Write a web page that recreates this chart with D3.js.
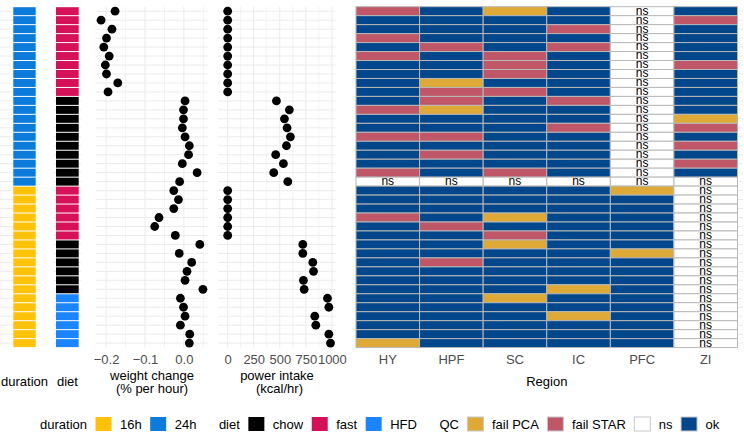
<!DOCTYPE html>
<html><head><meta charset="utf-8">
<script src="https://cdn.jsdelivr.net/npm/d3@7"></script>
<style>
body{margin:0;background:#fff}
svg{display:block;font-family:"Liberation Sans",Arial,Helvetica,sans-serif}
</style>
</head><body>
<svg id="c" width="744" height="444"></svg>
<script>
// ---------- data ----------
const durationLevels = ["16h", "24h"];
const durationColors = ["#FFC20A", "#0C7BDC"];
const dietLevels = ["chow", "fast", "HFD"];
const dietColors = ["#000000", "#D41159", "#1A85FF"];
const qcLevels = ["fail PCA", "fail STAR", "ns", "ok"];
const qcColors = ["#DEA936", "#BF5769", "#FFFFFF", "#02468B"];
const qcCode = {P: "fail PCA", S: "fail STAR", n: "ns", o: "ok"};
const regions = ["HY", "HPF", "SC", "IC", "PFC", "ZI"];

const samples = ["s01","s02","s03","s04","s05","s06","s07","s08","s09","s10",
  "s11","s12","s13","s14","s15","s16","s17","s18","s19","s20",
  "s21","s22","s23","s24","s25","s26","s27","s28","s29","s30",
  "s31","s32","s33","s34","s35","s36","s37","s38"];

const duration = ["24h","24h","24h","24h","24h","24h","24h","24h","24h","24h",
  "24h","24h","24h","24h","24h","24h","24h","24h","24h","24h",
  "16h","16h","16h","16h","16h","16h","16h","16h","16h","16h",
  "16h","16h","16h","16h","16h","16h","16h","16h"];

const diet = ["fast","fast","fast","fast","fast","fast","fast","fast","fast","fast",
  "chow","chow","chow","chow","chow","chow","chow","chow","chow","chow",
  "fast","fast","fast","fast","fast","fast",
  "chow","chow","chow","chow","chow","chow",
  "HFD","HFD","HFD","HFD","HFD","HFD"];

const weightChange = [-0.177,-0.213,-0.185,-0.199,-0.206,-0.192,-0.202,-0.199,-0.170,-0.195,
  0.003,-0.001,-0.001,-0.004,0.003,0.014,0.012,-0.004,0.034,-0.011,
  -0.026,-0.014,-0.026,-0.064,-0.075,-0.022,0.041,-0.012,0.020,0.008,
  0.003,0.049,-0.009,-0.001,0.003,-0.009,0.015,0.014];

const powerIntake = [0,0,0,0,0,0,0,0,0,0,
  468,592,545,570,602,564,461,535,442,577,
  0,0,0,0,0,0,
  721,721,817,824,727,734,958,971,836,846,971,987];

const weightTicks = [-0.2, -0.1, 0.0];
const weightMinor = [-0.15, -0.05, 0.05];
const powerTicks = [0, 250, 500, 750, 1000];
const powerMinor = [125, 375, 625, 875];

const qcHY  = ["S","o","o","S","o","S","o","o","o","o", "o","S","o","o","S","o","o","o","S","n",
               "o","o","o","S","o","o","o","o","o","o", "o","o","o","o","o","o","o","P"];
const qcHPF = ["o","o","o","o","S","o","o","o","P","S", "S","P","o","o","S","o","S","o","o","n",
               "o","o","o","o","S","o","o","o","S","o", "o","o","o","o","o","o","o","o"];
const qcSC  = ["P","o","o","o","o","S","S","S","o","S", "o","o","o","o","o","o","o","o","S","n",
               "o","o","o","P","o","S","P","o","o","o", "o","o","P","o","o","o","o","o"];
const qcIC  = ["o","o","S","o","S","o","o","o","o","o", "S","o","o","S","o","o","o","o","o","n",
               "o","o","o","o","o","o","o","o","o","o", "o","P","o","o","P","o","o","o"];
const qcPFC = ["n","n","n","n","n","n","n","n","n","n", "n","n","n","n","n","n","n","n","n","n",
               "P","o","o","o","o","o","o","P","o","o", "o","o","o","o","o","o","o","o"];
const qcZI  = ["o","S","o","o","o","o","S","o","o","o", "o","o","P","S","o","S","o","S","o","n",
               "n","n","n","n","n","n","n","n","n","n", "n","n","n","n","n","n","n","n"];
const qcByRegion = {HY: qcHY, HPF: qcHPF, SC: qcSC, IC: qcIC, PFC: qcPFC, ZI: qcZI};

// ---------- setup ----------
const svg = d3.select("#c");
const FS = 13;
const gridCol = "#ebebeb";
const y = d3.scaleBand().domain(samples).range([6.7, 347.6]).padding(0);
const yc = s => y(s) + y.bandwidth() / 2;

const durColor = d3.scaleOrdinal(durationLevels, durationColors);
const dietColor = d3.scaleOrdinal(dietLevels, dietColors);
const qcColor = d3.scaleOrdinal(qcLevels, qcColors);

const rows = samples.map((s, i) => ({id: s, duration: duration[i], diet: diet[i], w: weightChange[i], p: powerIntake[i]}));

function hGrid(x0, x1) {
  svg.append("g").selectAll("line").data(samples).join("line")
    .attr("x1", x0).attr("x2", x1)
    .attr("y1", d => yc(d)).attr("y2", d => yc(d))
    .attr("stroke", gridCol).attr("stroke-width", 1);
}

// ---------- duration & diet tile columns ----------
hGrid(0, 38.5);
hGrid(54, 81);
svg.append("g").selectAll("rect").data(rows).join("rect")
  .attr("x", 13.3).attr("width", 22.4)
  .attr("y", d => y(d.id) + 0.5).attr("height", y.bandwidth() - 1)
  .attr("fill", d => durColor(d.duration));
svg.append("g").selectAll("rect").data(rows).join("rect")
  .attr("x", 56).attr("width", 22.7)
  .attr("y", d => y(d.id) + 0.5).attr("height", y.bandwidth() - 1)
  .attr("fill", d => dietColor(d.diet));

// ---------- weight change panel ----------
const xw = d3.scaleLinear().domain([-0.226, 0.062]).range([96, 208]);
hGrid(96, 208);
svg.append("g").selectAll("line").data(weightMinor).join("line")
  .attr("x1", d => xw(d)).attr("x2", d => xw(d)).attr("y1", 6.7).attr("y2", 347.6)
  .attr("stroke", gridCol).attr("stroke-width", 0.6);
svg.append("g").selectAll("line").data(weightTicks).join("line")
  .attr("x1", d => xw(d)).attr("x2", d => xw(d)).attr("y1", 6.7).attr("y2", 347.6)
  .attr("stroke", gridCol).attr("stroke-width", 1);
svg.append("g").selectAll("circle").data(rows).join("circle")
  .attr("cx", d => xw(d.w)).attr("cy", d => yc(d.id)).attr("r", 4.4).attr("fill", "#000");

// ---------- power intake panel ----------
const xp = d3.scaleLinear().domain([-93, 1035]).range([218, 335.5]);
hGrid(218, 335.5);
svg.append("g").selectAll("line").data(powerMinor).join("line")
  .attr("x1", d => xp(d)).attr("x2", d => xp(d)).attr("y1", 6.7).attr("y2", 347.6)
  .attr("stroke", gridCol).attr("stroke-width", 0.6);
svg.append("g").selectAll("line").data(powerTicks).join("line")
  .attr("x1", d => xp(d)).attr("x2", d => xp(d)).attr("y1", 6.7).attr("y2", 347.6)
  .attr("stroke", gridCol).attr("stroke-width", 1);
svg.append("g").selectAll("circle").data(rows).join("circle")
  .attr("cx", d => xp(d.p)).attr("cy", d => yc(d.id)).attr("r", 4.4).attr("fill", "#000");

// ---------- heatmap ----------
const xr = d3.scaleBand().domain(regions).range([356, 737.5]).padding(0);
hGrid(737.5, 743);
const cells = [];
regions.forEach(r => samples.forEach((s, i) => cells.push({r, s, q: qcCode[qcByRegion[r][i]]})));
svg.append("g").selectAll("rect").data(cells).join("rect")
  .attr("x", d => xr(d.r)).attr("y", d => y(d.s))
  .attr("width", xr.bandwidth()).attr("height", y.bandwidth())
  .attr("fill", d => qcColor(d.q)).attr("stroke", "#b8b8b8").attr("stroke-width", 1);
svg.append("g").selectAll("text").data(cells.filter(d => d.q === "ns")).join("text")
  .attr("x", d => xr(d.r) + xr.bandwidth() / 2).attr("y", d => yc(d.s) + 3.4)
  .attr("text-anchor", "middle").attr("font-size", 12).attr("fill", "#000").text("ns");

// ---------- axes ----------
function styleAxis(g) {
  g.select(".domain").remove();
  g.selectAll(".tick line").remove();
  g.selectAll(".tick text").attr("y", 0).attr("dy", 0).attr("font-size", FS)
    .attr("font-family", "Liberation Sans, Arial, sans-serif").attr("fill", "#4d4d4d");
}
const axY = 363.7;
svg.append("g").attr("transform", `translate(0,${axY})`)
  .call(d3.axisBottom(xw).tickValues(weightTicks).tickFormat(d3.format(".1f")).tickSize(0)).call(styleAxis);
svg.append("g").attr("transform", `translate(0,${axY})`)
  .call(d3.axisBottom(xp).tickValues(powerTicks).tickFormat(d3.format("d")).tickSize(0)).call(styleAxis);
svg.append("g").attr("transform", `translate(0,${axY})`)
  .call(d3.axisBottom(xr).tickSize(0)).call(styleAxis);

// ---------- axis titles ----------
function title(x, yy, t) {
  svg.append("text").attr("x", x).attr("y", yy).attr("text-anchor", "middle")
    .attr("font-size", FS).attr("fill", "#000").text(t);
}
title(24.5, 386.4, "duration");
title(67.4, 386.4, "diet");
title(152, 379.6, "weight change");
title(152, 393.3, "(% per hour)");
title(277, 379.6, "power intake");
title(279.5, 393.3, "(kcal/hr)");
title(546.8, 386.4, "Region");

// ---------- legend ----------
const legendY = 424;
let lx = 40;
function legendGroup(name, levels, colors, border) {
  const t = svg.append("text").attr("x", lx).attr("y", legendY + 4.6)
    .attr("font-size", FS).attr("fill", "#000").text(name);
  lx += t.node().getComputedTextLength() + 8.5;
  levels.forEach((lv, i) => {
    svg.append("rect").attr("x", lx).attr("y", legendY - 7).attr("width", 16).attr("height", 14)
      .attr("fill", colors[i])
      .attr("stroke", border ? "#c8c8c8" : "none").attr("stroke-width", border ? 1 : 0);
    lx += 16 + 8.5;
    const tt = svg.append("text").attr("x", lx).attr("y", legendY + 4.6)
      .attr("font-size", FS).attr("fill", "#000").text(lv);
    lx += tt.node().getComputedTextLength() + 8.5;
  });
  lx += 14;
}
legendGroup("duration", durationLevels, durationColors, false);
legendGroup("diet", dietLevels, dietColors, false);
legendGroup("QC", qcLevels, qcColors, true);
</script>
</body></html>
